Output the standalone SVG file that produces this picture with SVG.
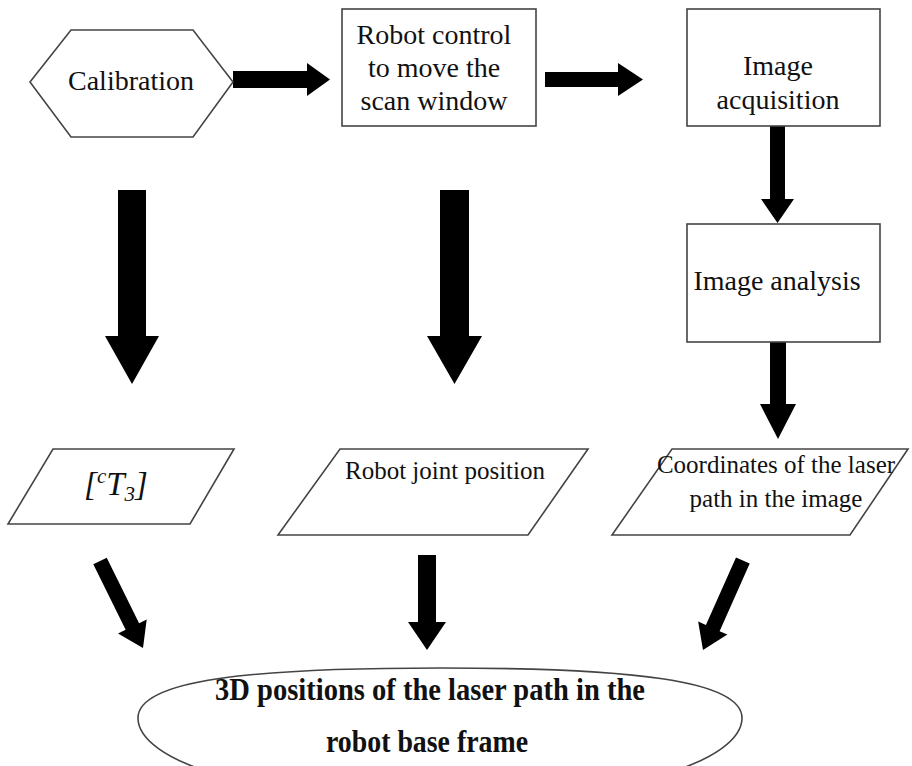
<svg xmlns="http://www.w3.org/2000/svg" width="912" height="766" viewBox="0 0 912 766">
<style>
.shape{fill:#ffffff;stroke:#444444;stroke-width:1.6}
.t{font-family:"Liberation Serif","Times New Roman",serif;font-size:28px;fill:#111111;text-anchor:middle}
.s{font-size:25px}
.b{font-weight:bold;font-size:32px}
.m{font-style:italic;font-size:33px}
.arrow{fill:#000000}
</style>
<rect width="912" height="766" fill="#ffffff"/>
<g id="connectors">
  <polygon class="arrow" points="233,71 307,71 307,63 330,79.5 307,96 307,88 233,88"/>
  <polygon class="arrow" points="545,72 618,72 618,63 643,79.5 618,96 618,87 545,87"/>
  <polygon class="arrow" points="770,126 785,126 785,199 794,199 777.5,223 761,199 770,199"/>
  <polygon class="arrow" points="770,342 786,342 786,404 796,404 778,439 760,404 770,404"/>
  <polygon class="arrow" points="118,190 146,190 146,336 159,336 132,384 105,336 118,336"/>
  <polygon class="arrow" points="440,190 469,190 469,336 482,336 454.5,384 427,336 440,336"/>
  <polygon class="arrow" points="135.5,551 150.5,551 150.5,624 159,624 143,648 127,624 135.5,624" transform="rotate(-26.3 143 648)"/>
  <polygon class="arrow" points="418,555 436,555 436,622 446,622 427,650 408,622 418,622"/>
  <polygon class="arrow" points="695.5,552 710.5,552 710.5,626 719,626 703,650 687,626 695.5,626" transform="rotate(24 703 650)"/>
</g>
<g id="calibration">
  <polygon class="shape" points="30,82 71,30 193,30 233,82 193,137 71,137"/>
  <text class="t" x="131" y="90">Calibration</text>
</g>
<g id="robot-control">
  <rect class="shape" x="342" y="9" width="194" height="117"/>
  <text class="t" x="434" y="44">Robot control</text>
  <text class="t" x="434" y="77">to move the</text>
  <text class="t" x="434" y="110">scan window</text>
</g>
<g id="image-acquisition">
  <rect class="shape" x="687" y="9" width="193" height="117"/>
  <text class="t" x="778" y="75">Image</text>
  <text class="t" x="778" y="109">acquisition</text>
</g>
<g id="image-analysis">
  <rect class="shape" x="687" y="224" width="193" height="118"/>
  <text class="t" x="777" y="290">Image analysis</text>
</g>
<g id="ct3">
  <polygon class="shape" points="53,449 234,449 190,524 8,524"/>
  <text class="t m" x="116" y="495">[<tspan style="font-size:21px" dy="-12">c</tspan><tspan dy="12">T</tspan><tspan style="font-size:21px" dy="6">3</tspan><tspan dy="-6">]</tspan></text>
</g>
<g id="robot-joint-position">
  <polygon class="shape" points="340,449 588,449 528,535 278,535"/>
  <text class="t s" x="445" y="479">Robot joint position</text>
</g>
<g id="laser-coordinates">
  <polygon class="shape" points="672,449 908,449 850,535 612,535"/>
  <text class="t s" x="776" y="473">Coordinates of the laser</text>
  <text class="t s" x="776" y="507">path in the image</text>
</g>
<g id="positions-3d">
  <path class="shape" d="M138,718 C138,680 250,668 440,668 C630,668 742,680 742,718 C742,760 630,800 440,800 C250,800 138,760 138,718 Z"/>
  <text class="t b" x="430" y="700" textLength="430" lengthAdjust="spacingAndGlyphs">3D positions of the laser path in the</text>
  <text class="t b" x="427" y="752" textLength="202" lengthAdjust="spacingAndGlyphs">robot base frame</text>
</g>
</svg>
